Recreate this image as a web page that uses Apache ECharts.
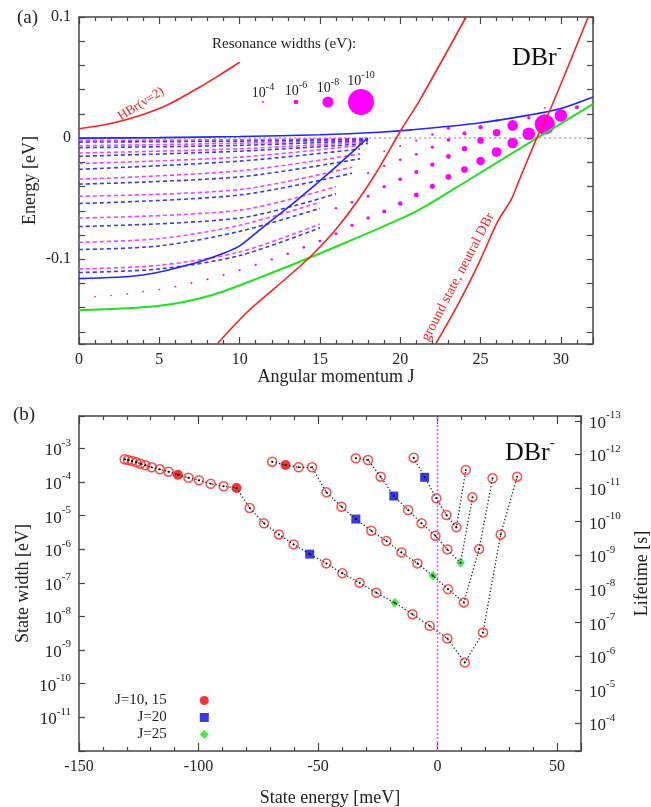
<!DOCTYPE html>
<html><head><meta charset="utf-8">
<script src="https://cdn.jsdelivr.net/npm/echarts@6/dist/echarts.min.js"></script>
<style>html,body{margin:0;padding:0;background:#fff}#c{width:651px;height:807px}</style>
</head><body><div id="c"></div><script>
// ---------- Panel (a): energy vs angular momentum J ----------
const hbrV2 = [[0,0.0077],[1.9,0.0118],[3.8,0.0187],[5.6,0.028],[7.5,0.042],[8.7,0.0516],[10,0.0626]];
const redMid = [[8.6,-0.17],[10.4,-0.1446],[12.3,-0.1226],[14.4,-0.098],[16.2,-0.072],[18.2,-0.035],[20.1,0.0077],[21.2,0.031],[24.1,0.1]];
const groundNeutral = [[22.2,-0.17],[23.65,-0.136],[24.9,-0.103],[26.1,-0.068],[26.9,-0.051],[27.4,-0.035],[28.5,0],[29.4,0.0255],[31.7,0.1]];
const blueUpper = [[0,0],[5,0.0004],[10,0.0013],[15,0.0028],[18.7,0.0049],[20.7,0.0068],[24.9,0.0125],[28,0.019],[30,0.0245],[32,0.034]];
const blueLower = [[0,-0.116],[4,-0.113],[7,-0.104],[9,-0.095],[10,-0.089],[11.6,-0.072],[13.5,-0.052],[15.8,-0.026],[17.95,0]];
const greenCurve = [[0,-0.1422],[5,-0.1385],[8.3,-0.1295],[11.4,-0.1144],[14.5,-0.098],[17,-0.084],[19.1,-0.072],[21.2,-0.059],[24.2,-0.035],[28.5,0],[32,0.028]];
const zeroLine = [[0,0],[32,0]];
const magentaRows = [
  [[0,-0.0019],[10,-0.0013],[18,-0.0002]],
  [[0,-0.0063],[10,-0.0042],[18,-0.0012]],
  [[0,-0.0123],[10,-0.0088],[18,-0.003]],
  [[0,-0.021],[10,-0.0157],[17.5,-0.006]],
  [[0,-0.034],[10,-0.027],[17.5,-0.013]],
  [[0,-0.048],[10,-0.0425],[17,-0.024]],
  [[0,-0.066],[10,-0.0595],[16,-0.040]],
  [[0,-0.086],[5,-0.083],[10,-0.072],[15,-0.053]],
  [[0,-0.108],[5,-0.105],[10,-0.094],[15,-0.071]]
];
const blueRows = [
  [[0,-0.0033],[10,-0.0025],[18,-0.0008]],
  [[0,-0.0079],[10,-0.006],[18,-0.002]],
  [[0,-0.015],[10,-0.0108],[18,-0.0045]],
  [[0,-0.0258],[10,-0.019],[17.5,-0.009]],
  [[0,-0.038],[10,-0.032],[17.5,-0.017]],
  [[0,-0.054],[10,-0.047],[17,-0.029]],
  [[0,-0.073],[10,-0.066],[16,-0.046]],
  [[0,-0.092],[5,-0.089],[10,-0.077],[15,-0.058]],
  [[0,-0.111],[5,-0.108],[10,-0.097],[15,-0.074]]
];
// resonance dots: [J, energy eV, log10(width eV)]
const resonances = [
  [1,-0.1309,-3.5],[2,-0.1300,-3.5],[3,-0.1286,-3.6],[4,-0.1267,-3.7],[5,-0.1251,-3.8],[6,-0.1226,-3.9],
  [7,-0.1196,-4.0],[8,-0.1165,-4.0],[9,-0.1130,-4.1],[10,-0.1091,-4.2],[11,-0.1047,-4.3],[12,-0.1001,-4.4],
  [13,-0.0955,-4.5],[14,-0.0902,-4.6],[15,-0.085,-4.7],[16,-0.079,-4.9],[17,-0.072,-5.1],[18,-0.066,-5.3],
  [19,-0.0605,-5.6],[20,-0.054,-5.9],[21,-0.047,-6.1],[22,-0.0398,-6.2],[23,-0.032,-6.5],[24,-0.026,-6.8],
  [25,-0.0189,-7.4],[26,-0.0115,-7.7],[27,-0.0041,-7.9],[28,0.0036,-8.3],[29,0.0113,-9.4],[30,0.0187,-8.3],[31,0.0255,-5.6],
  [16,-0.058,-4.5],[17,-0.053,-4.7],[18,-0.048,-4.9],[19,-0.040,-5.2],[20,-0.034,-5.4],[21,-0.028,-5.6],
  [22,-0.0219,-5.8],[23,-0.0151,-6.0],[24,-0.0087,-6.3],[25,-0.0019,-6.8],[26,0.0044,-7.1],[27,0.0105,-7.9],[28,0.0168,-5.2],
  [18,-0.029,-4.3],[19,-0.023,-4.5],[20,-0.0178,-4.6],[21,-0.0134,-4.8],[22,-0.0074,-5.1],[23,-0.0015,-5.4],
  [24,0.0041,-5.6],[25,0.009,-5.8],[26,0.0146,-4.5],
  [19,-0.0107,-3.8],[20,-0.0065,-4.0],[21,-0.002,-4.2],[22,0.003,-4.4],[23,0.0082,-5.0],[29,0.025,-3.8]
];
const widthLegend = [-4,-6,-8,-10];

// ---------- Panel (b): state width vs state energy ----------
// [energy meV, width eV, tag]
const chainD = [[-130.9,4.71e-4,''],[-129.5,4.49e-4,''],[-127.8,4.19e-4,''],[-126.0,3.83e-4,''],[-124.3,3.48e-4,''],
  [-122.2,3.12e-4,''],[-119.6,2.72e-4,''],[-116.2,2.37e-4,''],[-112.5,2.01e-4,''],[-108.6,1.64e-4,'J10'],
  [-104.2,1.33e-4,''],[-99.8,1.12e-4,''],[-94.9,8.83e-5,''],[-89.5,7.40e-5,''],[-84.1,6.58e-5,'J10'],
  [-78.6,1.67e-5,''],[-72.6,5.86e-6,''],[-66.4,2.75e-6,''],[-60.2,1.39e-6,''],[-53.5,7.14e-7,'J20'],
  [-46.5,3.78e-7,''],[-39.8,1.91e-7,''],[-32.6,1.0e-7,''],[-25.6,5.04e-8,''],[-17.9,2.54e-8,'J25'],
  [-10.5,1.17e-8,''],[-3.3,5.25e-9,''],[4.1,2.21e-9,''],[11.4,4.28e-10,''],[19.0,3.34e-9,''],
  [26.4,2.75e-6,''],[33.3,1.43e-4,'']];
const chainC = [[-69.2,3.99e-4,''],[-63.6,3.18e-4,'J10'],[-58.1,2.72e-4,''],[-52.5,2.72e-4,''],[-46.5,4.90e-5,''],
  [-40.2,1.83e-5,''],[-34.2,7.87e-6,'J20'],[-27.7,3.53e-6,''],[-21.4,1.74e-6,''],[-15.1,8.04e-7,''],
  [-8.4,3.78e-7,''],[-1.9,1.61e-7,'J25'],[4.4,6.49e-8,''],[11.0,2.61e-8,''],[17.4,1.01e-6,''],[23.0,1.28e-4,'']];
const chainB = [[-34.2,5.04e-4,''],[-29.1,4.49e-4,''],[-23.8,1.43e-4,''],[-18.3,3.80e-5,'J20'],[-12.3,1.46e-5,''],
  [-6.7,5.86e-6,''],[-0.9,2.51e-6,''],[4.1,9.86e-7,''],[9.6,3.94e-7,'J25'],[14.6,3.48e-5,'']];
const chainA = [[-10.0,5.25e-4,''],[-5.4,1.37e-4,'J20'],[-0.5,3.25e-5,''],[3.7,1.04e-5,''],[7.9,4.46e-6,''],[11.8,2.26e-4,'']];
const chains = [chainD, chainC, chainB, chainA];
const thresholdLine = [[0,1e-12],[0,9.12e-3]];
const widthRange = [1e-12, 9.12e-3];
const HBAR = 6.582e-16; // eV s, lifetime = hbar / width

const FONT = 'Liberation Serif';
const AX = '#444';
const dotSize = lw => 2 * Math.pow(13, (-4 - lw) / 6);

const chart = echarts.init(document.getElementById('c'), null, {renderer: 'canvas'});

const nameStyle = {fontFamily: FONT, fontSize: 18, color: '#222'};
function linearAxis(gridIndex, pos, min, max, split, showLabel, fmt, extra) {
  return Object.assign({
    type: 'value', gridIndex, position: pos, min, max, splitNumber: split,
    axisLine: {show: true, onZero: false, lineStyle: {color: AX, width: 1.5}},
    axisTick: {show: true, inside: true, length: 7, lineStyle: {color: AX, width: 1.2}},
    minorTick: {show: false},
    splitLine: {show: false},
    axisLabel: {show: showLabel, formatter: fmt, fontFamily: FONT, fontSize: 16, color: '#222', margin: 8},
    nameMoveOverlap: false,
    nameTextStyle: nameStyle
  }, extra || {});
}
const fmtJ = v => (Math.abs(v % 5) < 1e-9 ? String(v) : '');
const fmtE = v => { const t = Math.round(v * 10) / 10; return Math.abs(v - t) < 1e-9 ? (t === 0 ? '0' : String(t)) : ''; };
const fmtM = v => (Math.abs(v % 50) < 1e-9 ? String(v) : '');
const fmtPow = (lo, hi) => v => { const l = Math.log10(v); const e = Math.round(l); return (Math.abs(l - e) > 0.01 || e < lo || e > hi) ? '' : '{b|10}{s|' + e + '}'; };
const richPow = {b: {fontFamily: FONT, fontSize: 17, color: '#222', lineHeight: 22, verticalAlign: 'bottom'},
                 s: {fontFamily: FONT, fontSize: 11, color: '#222', lineHeight: 12, verticalAlign: 'top'}};
const minorT = {show: true, splitNumber: 5, length: 4, lineStyle: {color: AX, width: 1.2}};
const longTick = {show: true, inside: true, length: 8, lineStyle: {color: AX, width: 1.2}};
const yTick = {show: true, inside: true, length: 6, lineStyle: {color: AX, width: 1.2}};

const xAxes = [
  linearAxis(0, 'bottom', 0, 32, 6, true, fmtJ, {minorTick: minorT, name: 'Angular momentum J', nameLocation: 'middle', nameGap: 24}),
  linearAxis(0, 'top', 0, 32, 6, false, fmtJ, {minorTick: minorT}),
  linearAxis(1, 'bottom', -150, 60, 5, true, fmtM, {minorTick: minorT, axisTick: longTick,
    name: 'State energy [meV]', nameLocation: 'middle', nameGap: 38}),
  linearAxis(1, 'top', -150, 60, 5, false, fmtM, {minorTick: minorT, axisTick: longTick})
];
const yAxes = [
  linearAxis(0, 'left', -0.17, 0.1, 14, true, fmtE, {name: 'Energy [eV]', nameLocation: 'middle', nameGap: 40, axisTick: yTick}),
  linearAxis(0, 'right', -0.17, 0.1, 14, false, fmtE, {axisTick: yTick}),
  {type: 'log', gridIndex: 1, position: 'left', min: widthRange[0], max: widthRange[1], logBase: 10, splitNumber: 10,
   axisLine: {show: true, onZero: false, lineStyle: {color: AX, width: 1.5}},
   axisTick: yTick, splitLine: {show: false}, minorTick: {show: false},
   axisLabel: {formatter: fmtPow(-11, -3), rich: richPow, margin: 8},
   name: 'State width [eV]', nameLocation: 'middle', nameGap: 47, nameMoveOverlap: false, nameTextStyle: nameStyle},
  {type: 'log', gridIndex: 1, position: 'right', inverse: true, min: HBAR / widthRange[1], max: HBAR / widthRange[0], logBase: 10, splitNumber: 10,
   axisLine: {show: true, onZero: false, lineStyle: {color: AX, width: 1.5}},
   axisTick: yTick, splitLine: {show: false}, minorTick: {show: false},
   axisLabel: {formatter: fmtPow(-13, -4), rich: richPow, margin: 8},
   name: 'Lifetime [s]', nameLocation: 'middle', nameGap: 52, nameRotate: 90, nameMoveOverlap: false,
   nameTextStyle: Object.assign({padding: [0, 0, 0, 20]}, nameStyle)}
];

const series = [];
const lineA = (data, color, width, type, z) => ({type: 'line', xAxisIndex: 0, yAxisIndex: 0, data, showSymbol: false, symbol: 'none',
  smooth: 0.3, lineStyle: {color, width, type}, z: z || 2, silent: true, animation: false});
series.push(lineA(zeroLine, '#aaaaaa', 1.5, [2, 3], 1));
magentaRows.forEach(r => series.push(lineA(r, '#ff3cff', 1.6, [4, 3], 2)));
blueRows.forEach(r => series.push(lineA(r, '#3a3ae8', 1.6, [4, 3], 2)));
series.push({type: 'scatter', xAxisIndex: 0, yAxisIndex: 0, data: resonances, symbol: 'circle',
  symbolSize: v => dotSize(v[2]), itemStyle: {color: '#ff00ff', opacity: 1}, z: 3, silent: true, animation: false});
series.push(lineA(blueUpper, '#2424ff', 1.6, 'solid', 4));
series.push(lineA(blueLower, '#2424ff', 1.6, 'solid', 4));
series.push(lineA(greenCurve, '#22e022', 2, 'solid', 4));
series.push(lineA(hbrV2, '#ff2020', 1.6, 'solid', 4));
series.push(lineA(redMid, '#ff2020', 1.6, 'solid', 4));
series.push(lineA(groundNeutral, '#ff2020', 1.6, 'solid', 4));

// panel b
series.push({type: 'line', xAxisIndex: 2, yAxisIndex: 2, data: thresholdLine, showSymbol: false, symbol: 'none',
  lineStyle: {color: '#ff55ff', width: 1.5, type: [2, 2]}, z: 1, silent: true, animation: false});
chains.forEach(ch => {
  series.push({type: 'line', xAxisIndex: 2, yAxisIndex: 2, data: ch.map(p => [p[0], p[1]]),
    symbol: 'circle', symbolSize: 2, showSymbol: true, itemStyle: {color: '#000'},
    lineStyle: {color: '#222', width: 1.3, type: [1.3, 2.2]}, z: 6, silent: true, animation: false});
  series.push({type: 'scatter', xAxisIndex: 2, yAxisIndex: 2, data: ch.filter(p => !p[2]).map(p => [p[0], p[1]]),
    symbol: 'circle', symbolSize: 9, itemStyle: {color: 'rgba(255,255,255,0)', borderColor: '#ff2020', borderWidth: 1.5}, z: 4, silent: true, animation: false});
});
const special = (tag) => chains.flat().filter(p => p[2] === tag).map(p => [p[0], p[1]]);
series.push({name: 'J=10, 15', type: 'scatter', xAxisIndex: 2, yAxisIndex: 2, data: special('J10'), symbol: 'circle', symbolSize: 10, itemStyle: {color: '#ee0000'}, z: 5, animation: false});
series.push({name: 'J=20', type: 'scatter', xAxisIndex: 2, yAxisIndex: 2, data: special('J20'), symbol: 'rect', symbolSize: 9, itemStyle: {color: '#0a0ae0'}, z: 5, animation: false});
series.push({name: 'J=25', type: 'scatter', xAxisIndex: 2, yAxisIndex: 2, data: special('J25'), symbol: 'diamond', symbolSize: [9, 10], itemStyle: {color: '#22e022'}, z: 5, animation: false});

// graphic annotations
const T = (text, x, y, size, color, opts) => Object.assign({type: 'text', x, y, silent: true,
  style: Object.assign({text, font: size + 'px "' + FONT + '"', fill: color || '#222', align: 'left', verticalAlign: 'middle'}, (opts && opts.style) || {})},
  opts && opts.rot != null ? {rotation: opts.rot} : {});
const dbrRich = {m: {font: '26px "' + FONT + '"', fill: '#111', lineHeight: 30, verticalAlign: 'bottom'}, s: {font: '15px "' + FONT + '"', fill: '#111', lineHeight: 14, verticalAlign: 'top'}};
const graphics = [
  T('(a)', 17, 18, 19, '#222'),
  T('(b)', 13, 415, 19, '#222'),
  T('Resonance widths (eV):', 212, 44, 15, '#222'),
  {type: 'text', x: 512, y: 56, silent: true, style: {text: '{m|DBr}{s|-}', verticalAlign: 'middle', rich: dbrRich}},
  {type: 'text', x: 505, y: 451, silent: true, style: {text: '{m|DBr}{s|-}', verticalAlign: 'middle', rich: dbrRich}},
  T('HBr(v=2)', 141, 104, 13, '#ff2020', {rot: 0.56, style: {align: 'center'}}),
  T('ground state, neutral DBr', 458, 277, 14, '#ff2020', {rot: 1.09, style: {align: 'center'}})
];
const legX = [263, 296, 328, 361];
widthLegend.forEach((lw, i) => {
  const r = dotSize(lw) / 2;
  graphics.push({type: 'text', x: legX[i], y: 102 - r - 10, silent: true, style: {text: '{b|10}{s|' + lw + '}', align: 'center', verticalAlign: 'middle',
    rich: {b: {font: '14px "' + FONT + '"', fill: '#222', lineHeight: 18, verticalAlign: 'bottom'}, s: {font: '10px "' + FONT + '"', fill: '#222', lineHeight: 10, verticalAlign: 'top'}}}});
  graphics.push({type: 'circle', shape: {cx: legX[i], cy: 102, r}, style: {fill: '#ff00ff'}, silent: true});
});

chart.setOption({
  animation: false,
  backgroundColor: '#fff',
  grid: [{left: 79, top: 17, width: 514, height: 327, containLabel: false, outerBoundsMode: 'none'},
         {left: 79, top: 416, width: 502, height: 335, containLabel: false, outerBoundsMode: 'none'}],
  xAxis: xAxes, yAxis: yAxes, series,
  legend: {data: ['J=10, 15', 'J=20', 'J=25'], orient: 'vertical', left: 110, top: 688, align: 'right', itemWidth: 9, itemHeight: 9, itemGap: 2,
    textStyle: {fontFamily: FONT, fontSize: 15, color: '#222', padding: [0, 28, 0, 0]}, selectedMode: false},
  graphic: graphics
});
</script></body></html>
